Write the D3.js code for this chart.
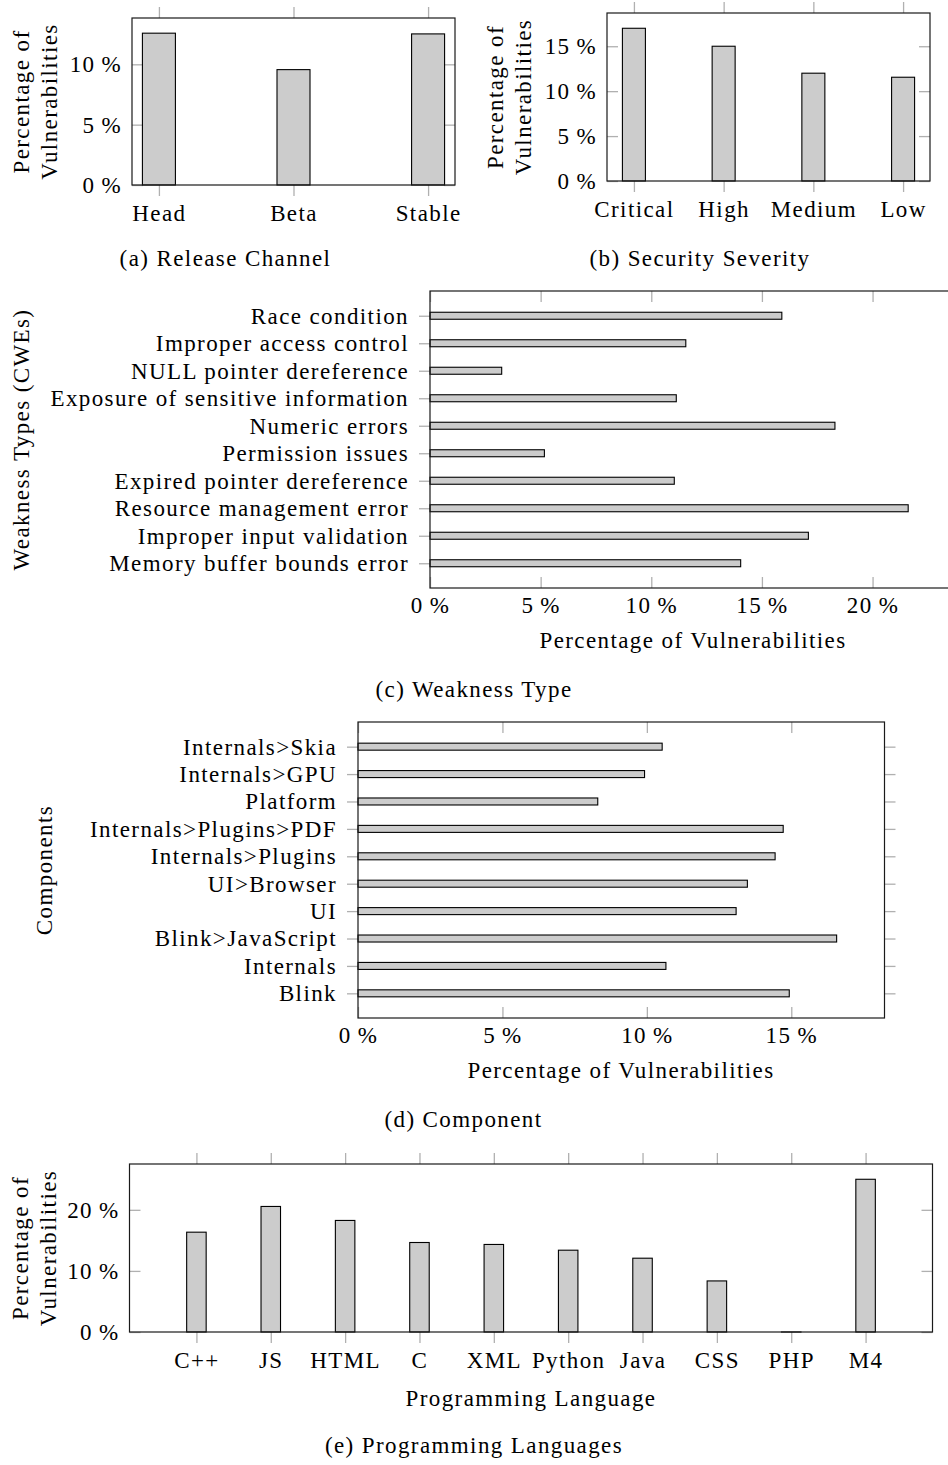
<!DOCTYPE html>
<html>
<head>
<meta charset="utf-8">
<script src="https://cdn.jsdelivr.net/npm/d3@7"></script>
<style>
  html, body { margin: 0; padding: 0; background: #fff; }
  svg { display: block; }
  text { font-family: 'Liberation Serif', 'Times New Roman', serif; fill: #000; }
</style>
</head>
<body>
<svg id="fig" width="948" height="1465"></svg>
<script>
// ---- data ----------------------------------------------------------------
const channelLabels = ["Head", "Beta", "Stable"];
const channelValues = [12.58, 9.56, 12.52];
const channelTicks = [0, 5, 10];

const severityLabels = ["Critical", "High", "Medium", "Low"];
const severityValues = [17.0, 15.0, 12.0, 11.55];
const severityTicks = [0, 5, 10, 15];

// listed bottom to top
const weaknessLabels = [
  "Memory buffer bounds error", "Improper input validation", "Resource management error",
  "Expired pointer dereference", "Permission issues", "Numeric errors",
  "Exposure of sensitive information", "NULL pointer dereference",
  "Improper access control", "Race condition"
];
const weaknessValues = [14.04, 17.1, 21.61, 11.04, 5.17, 18.3, 11.13, 3.24, 11.56, 15.9];
const weaknessTicks = [0, 5, 10, 15, 20];

// listed bottom to top
const componentLabels = [
  "Blink", "Internals", "Blink>JavaScript", "UI", "UI>Browser",
  "Internals>Plugins", "Internals>Plugins>PDF", "Platform", "Internals>GPU", "Internals>Skia"
];
const componentValues = [14.93, 10.66, 16.57, 13.09, 13.48, 14.44, 14.72, 8.3, 9.92, 10.53];
const componentTicks = [0, 5, 10, 15];

const languageLabels = ["C++", "JS", "HTML", "C", "XML", "Python", "Java", "CSS", "PHP", "M4"];
const languageValues = [16.34, 20.55, 18.26, 14.65, 14.33, 13.39, 12.08, 8.36, 0, 25.0];
const languageTicks = [0, 10, 20];

// ---- styling -------------------------------------------------------------
const FONT = 23;
const SPACING = "1.4px";
const TICK = 11;
const TICK_COLOR = "#b0b0b0";
const FRAME_COLOR = "#1a1a1a";
const BAR_FILL = "#cccccc";
const pct = d => d + "\u2009%";

const svg = d3.select("#fig");

function styleAxis(g, showLabels) {
  g.attr("font-family", null).attr("font-size", null);
  g.select(".domain").remove();
  g.selectAll(".tick line").attr("stroke", TICK_COLOR).attr("stroke-width", 1.3);
  g.selectAll(".tick text")
    .style("font-size", FONT + "px")
    .style("letter-spacing", SPACING)
    .attr("fill", "#000");
  if (!showLabels) g.selectAll(".tick text").remove();
}

function frame(g, b) {
  g.append("rect")
    .attr("x", b.x0).attr("y", b.y0)
    .attr("width", b.x1 - b.x0).attr("height", b.y1 - b.y0)
    .attr("fill", "none").attr("stroke", FRAME_COLOR).attr("stroke-width", 1.2);
}

function text(g, str, x, y, opts = {}) {
  return g.append("text")
    .attr("transform", `translate(${x},${y})` + (opts.rotate ? ` rotate(${opts.rotate})` : ""))
    .attr("text-anchor", opts.anchor || "middle")
    .style("font-size", (opts.size || FONT) + "px")
    .style("letter-spacing", SPACING)
    .text(str);
}

// a zero-length bar still shows as a hairline on the baseline
const span = v => Math.max(v, 0.01);

// vertical bar chart: categories along x, percentage along y
function verticalBars(labels, values, ticks, box, barWidth) {
  const g = svg.append("g");
  const n = labels.length;
  const x = d3.scalePoint().domain(labels).range([box.x0, box.x1]).padding(0.1 * (n - 1));
  const y = d3.scaleLinear().domain([0, d3.max(values) * 1.1]).range([box.y1, box.y0]);

  g.append("g").attr("transform", `translate(${box.x0},0)`)
    .call(d3.axisLeft(y).tickValues(ticks).tickSize(-TICK).tickPadding(10).tickFormat(pct))
    .call(a => styleAxis(a, true));
  g.append("g").attr("transform", `translate(${box.x1},0)`)
    .call(d3.axisRight(y).tickValues(ticks).tickSize(-TICK))
    .call(a => styleAxis(a, false));
  g.append("g").attr("transform", `translate(0,${box.y1})`)
    .call(d3.axisBottom(x).tickSize(TICK).tickPadding(9))
    .call(a => styleAxis(a, true));
  g.append("g").attr("transform", `translate(0,${box.y0})`)
    .call(d3.axisTop(x).tickSize(TICK))
    .call(a => styleAxis(a, false));

  g.selectAll("rect.bar").data(labels).join("rect")
    .attr("class", "bar")
    .attr("x", d => x(d) - barWidth / 2)
    .attr("width", barWidth)
    .attr("y", (d, i) => y(values[i]))
    .attr("height", (d, i) => span(y(0) - y(values[i])))
    .attr("fill", BAR_FILL).attr("stroke", "#000").attr("stroke-width", 1.1);

  frame(g, box);
  return g;
}

// horizontal bar chart: categories along y, percentage along x
function horizontalBars(labels, values, ticks, box, barHeight) {
  const g = svg.append("g");
  const n = labels.length;
  const y = d3.scalePoint().domain(labels).range([box.y1, box.y0]).padding(0.1 * (n - 1));
  const x = d3.scaleLinear().domain([0, d3.max(values) * 1.1]).range([box.x0, box.x1]);

  g.append("g").attr("transform", `translate(${box.x0},0)`)
    .call(d3.axisLeft(y).tickSize(TICK).tickPadding(10))
    .call(a => styleAxis(a, true));
  g.append("g").attr("transform", `translate(${box.x1},0)`)
    .call(d3.axisRight(y).tickSize(TICK))
    .call(a => styleAxis(a, false));
  g.append("g").attr("transform", `translate(0,${box.y1})`)
    .call(d3.axisBottom(x).tickValues(ticks).tickSize(-TICK).tickPadding(9).tickFormat(pct))
    .call(a => styleAxis(a, true));
  g.append("g").attr("transform", `translate(0,${box.y0})`)
    .call(d3.axisTop(x).tickValues(ticks).tickSize(-TICK))
    .call(a => styleAxis(a, false));

  g.selectAll("rect.bar").data(labels).join("rect")
    .attr("class", "bar")
    .attr("y", d => y(d) - barHeight / 2)
    .attr("height", barHeight)
    .attr("x", x(0))
    .attr("width", (d, i) => span(x(values[i]) - x(0)))
    .attr("fill", BAR_FILL).attr("stroke", "#000").attr("stroke-width", 1.1);

  frame(g, box);
  return g;
}

// (a) release channel
const boxA = { x0: 132, x1: 455, y0: 18, y1: 185 };
const gA = verticalBars(channelLabels, channelValues, channelTicks, boxA, 33);
text(gA, "Percentage of", 28.5, 101.5, { rotate: -90 });
text(gA, "Vulnerabilities", 56.5, 101.5, { rotate: -90 });
text(gA, "(a) Release Channel", 225.5, 266);

// (b) security severity
const boxB = { x0: 607, x1: 930, y0: 13, y1: 181 };
const gB = verticalBars(severityLabels, severityValues, severityTicks, boxB, 23);
text(gB, "Percentage of", 503, 97, { rotate: -90 });
text(gB, "Vulnerabilities", 531, 97, { rotate: -90 });
text(gB, "(b) Security Severity", 700, 266);

// (c) weakness type
const boxC = { x0: 430, x1: 956, y0: 291, y1: 588 };
const gC = horizontalBars(weaknessLabels, weaknessValues, weaknessTicks, boxC, 7);
text(gC, "Weakness Types (CWEs)", 28.5, 439.5, { rotate: -90 });
text(gC, "Percentage of Vulnerabilities", 693, 648);
text(gC, "(c) Weakness Type", 474, 697);

// (d) component
const boxD = { x0: 358, x1: 884.5, y0: 722, y1: 1018 };
const gD = horizontalBars(componentLabels, componentValues, componentTicks, boxD, 7);
text(gD, "Components", 51.5, 870, { rotate: -90 });
text(gD, "Percentage of Vulnerabilities", 621, 1078);
text(gD, "(d) Component", 463.5, 1127);

// (e) programming languages
const boxE = { x0: 129.5, x1: 932.5, y0: 1164, y1: 1332 };
const gE = verticalBars(languageLabels, languageValues, languageTicks, boxE, 19.5);
text(gE, "Percentage of", 27.5, 1248, { rotate: -90 });
text(gE, "Vulnerabilities", 55.5, 1248, { rotate: -90 });
text(gE, "Programming Language", 531, 1406);
text(gE, "(e) Programming Languages", 474, 1453);
</script>
</body>
</html>
